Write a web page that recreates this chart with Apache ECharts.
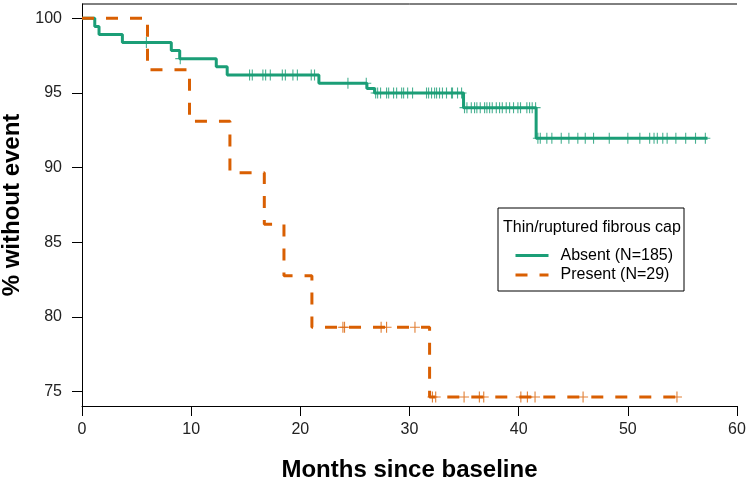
<!DOCTYPE html>
<html><head><meta charset="utf-8">
<script src="https://cdn.jsdelivr.net/npm/echarts@6/dist/echarts.min.js"></script>
<style>html,body{margin:0;padding:0;background:#fff}#c{width:750px;height:484px}</style>
</head><body><div id="c"></div>
<script>
// Kaplan-Meier step data (time in months, % without event after each step)
const absentTimes = [0, 1.17, 1.56, 3.7, 8.18, 8.95, 12.3, 13.3, 21.7, 26.1, 26.8, 34.95, 41.6, 57.3];
const absentSurv  = [100, 99.46, 98.92, 98.38, 97.84, 97.30, 96.76, 96.2, 95.65, 95.3, 95.0, 94.02, 91.97, 91.97];
const absentCensor = [5.9, 9.0, 15.35, 15.6, 16.57, 16.82, 17.25, 18.35, 18.63, 19.32, 19.73, 21.0, 21.3,
  24.36, 26.04,
  26.9, 27.08, 27.35, 27.9, 28.09, 28.54, 28.82, 29.28, 29.46, 29.83, 30.28, 31.56, 31.75, 32.02, 32.3, 32.48, 32.75, 33.02, 33.39, 33.85, 33.94, 34.4, 34.77,
  35.04, 35.26, 35.66, 35.96, 36.17, 36.48, 36.88, 37.09, 37.34, 37.58, 37.95, 38.25, 38.5, 38.86, 39.17, 39.53, 39.93, 40.17, 40.75, 41.0, 41.24, 41.55,
  41.76, 41.98, 42.58, 43.04, 43.9, 44.6, 45.42, 46.1, 46.86, 48.3, 50.0, 51.1, 52.0, 52.4, 52.7, 53.2, 53.6, 54.4, 55.3, 56.2, 57.1];
const presentTimes = [0, 6.0, 9.85, 13.55, 16.7, 18.5, 21.06, 31.84, 54.5];
const presentSurv  = [100, 96.55, 93.1, 89.66, 86.21, 82.76, 79.31, 74.64, 74.64];
const presentCensor = [23.9, 24.05, 27.4, 27.9, 30.5, 32.1, 32.4, 35.0, 36.4, 36.8, 40.2, 40.8, 41.5, 45.9, 54.5];
const xTicks = [0, 10, 20, 30, 40, 50, 60];
const yTicks = [75, 80, 85, 90, 95, 100];
const seriesNames = ['Absent (N=185)', 'Present (N=29)'];
const legendTitle = 'Thin/ruptured fibrous cap';

const GREEN = '#1b9e77', ORANGE = '#d95f02';
const FONT = 'Liberation Sans, Arial, Helvetica, sans-serif';

function survAt(times, surv, t) {
  let v = surv[0];
  for (let i = 0; i < times.length; i++) { if (times[i] <= t) v = surv[i]; }
  return v;
}
const zip = (a, b) => a.map((v, i) => [v, b[i]]);
const PLUS = 'path://M-0.55,-5.5H0.55V-0.55H5V0.55H0.55V5.5H-0.55V0.55H-5V-0.55H-0.55Z';

const chart = echarts.init(document.getElementById('c'), null, {renderer: 'canvas'});
chart.setOption({
  animation: false,
  backgroundColor: '#fff',
  grid: {left: 82, top: 4, right: 13, bottom: 78, containLabel: false, outerBoundsMode: 'none'},
  xAxis: {
    type: 'value', min: 0, max: 60, interval: 10,
    name: 'Months since baseline', nameLocation: 'middle', nameGap: 52,
    nameTextStyle: {fontFamily: FONT, fontSize: 24, fontWeight: 'bold', color: '#000'},
    axisLine: {show: true, lineStyle: {color: '#000', width: 1}},
    axisTick: {show: true, length: 10, inside: false, lineStyle: {color: '#000'}},
    axisLabel: {fontFamily: FONT, fontSize: 16, color: '#222', margin: 16},
    splitLine: {show: false}
  },
  yAxis: {
    type: 'value', min: 74.04, max: 100.96,
    name: '% without event', nameLocation: 'middle', nameGap: 56,
    nameTextStyle: {fontFamily: FONT, fontSize: 24, fontWeight: 'bold', color: '#000'},
    axisLine: {show: true, lineStyle: {color: '#000', width: 1}},
    axisTick: {show: true, length: 10, customValues: yTicks, lineStyle: {color: '#000'}},
    axisLabel: {fontFamily: FONT, fontSize: 16, color: '#222', margin: 20, customValues: yTicks},
    splitLine: {show: false}
  },
  legend: {
    orient: 'vertical', left: 514, top: 247.5, padding: 0,
    itemWidth: 33, itemHeight: 14, itemGap: 3.5,
    itemStyle: {opacity: 0},
    lineStyle: {width: 3},
    textStyle: {fontFamily: FONT, fontSize: 16, color: '#000', padding: [0, 0, 0, 7], lineHeight: 16},
    data: seriesNames
  },
  graphic: [
    {type: 'rect', shape: {x: 498, y: 208, width: 186, height: 83}, style: {fill: '#fff', stroke: '#000', lineWidth: 1}, z: 0},
    {type: 'text', x: 503, y: 228, style: {text: legendTitle, font: '16px ' + FONT, fill: '#000', textVerticalAlign: 'middle'}, z: 1},
    {type: 'line', shape: {x1: 82, y1: 4, x2: 737, y2: 4}, style: {stroke: '#000', lineWidth: 1}, z: 1}
  ],
  series: [
    {name: seriesNames[0], type: 'line', step: 'end', data: zip(absentTimes, absentSurv),
     showSymbol: false, symbol: 'none', color: GREEN,
     lineStyle: {color: GREEN, width: 3}, z: 3},
    {name: seriesNames[1], type: 'line', step: 'end', data: zip(presentTimes, presentSurv),
     showSymbol: false, symbol: 'none', color: ORANGE,
     lineStyle: {color: ORANGE, width: 3, type: [12, 12]}, z: 4},
    {name: seriesNames[0] + ' censored', type: 'scatter', symbol: PLUS, symbolSize: [10, 11],
     data: absentCensor.map(t => [t, survAt(absentTimes, absentSurv, t)]),
     itemStyle: {color: GREEN}, z: 5},
    {name: seriesNames[1] + ' censored', type: 'scatter', symbol: PLUS, symbolSize: [10, 11],
     data: presentCensor.map(t => [t, survAt(presentTimes, presentSurv, t)]),
     itemStyle: {color: ORANGE}, z: 6}
  ]
});
</script></body></html>
